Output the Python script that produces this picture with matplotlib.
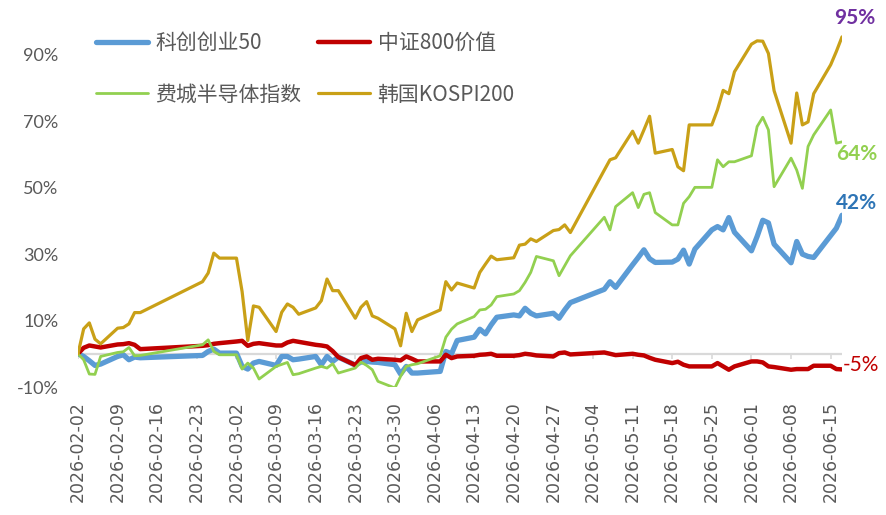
import matplotlib
matplotlib.use('Agg')
import matplotlib.pyplot as plt
import pandas as pd

plt.rcParams['font.family'] = ['Noto Sans CJK SC', 'DejaVu Sans']

# ---------------- data ----------------
start_date = '2026-02-02'
end_date = '2026-06-17'
holidays = ['2026-02-16', '2026-02-17', '2026-02-18', '2026-02-19', '2026-02-20',
            '2026-02-23', '2026-04-06', '2026-05-01', '2026-05-04', '2026-05-05']

series_names = ['科创创业50', '中证800价值', '费城半导体指数', '韩国KOSPI200']

kc50 = [
    0, -0.8, -2.1, -3.5, -3.1, -0.8, -0.3, -1.8, -1.0, -1.2, -0.5, 0.7, 1.4, 0.2,
    0.2, -3.8, -4.6, -2.8, -2.3, -3.5, -0.8, -0.8, -1.8, -1.6, -0.8, -3.3, -0.8, -2.3, -1.0,
    -3.4, -2.5, -2.3, -2.5, -2.6, -3.3, -6.1,
    -3.8, -5.8, -5.8, -5.3, 0.7, 0.0, 4.0, 5.0, 7.4, 6.0, 8.7, 11.0, 11.7, 11.4, 13.7, 12.2,
    11.4, 12.2, 10.7, 13.2, 15.4,
    19.4, 21.7, 20.0, 26.8, 29.0, 31.3, 28.6, 27.5, 27.6, 28.5, 31.2, 27.0, 31.5, 37.3, 38.3,
    37.3, 41.0, 36.6,
    31.0, 35.3, 40.2, 39.4, 33.0, 27.4, 33.8, 30.0, 29.3, 29.0, 35.6, 37.8, 41.7]

csi800v = [
    0, 1.8, 2.5, 2.2, 1.9, 2.8, 2.9, 3.2, 2.7, 1.4, 2.4, 2.6, 3.0, 3.2,
    3.7, 3.9, 2.4, 3.0, 3.2, 2.5, 2.5, 3.4, 3.9, 3.6, 2.7, 2.5, 2.2, 0.8, -1.0, -3.4, -1.3,
    -0.8, -1.8, -1.5, -1.8, -2.0,
    -0.8, -1.5, -2.3, -2.3, -0.3, -1.3, -0.8, -0.6, -0.3, -0.2, 0.0, -0.6, -0.6, -0.4, 0.0,
    -0.2, -0.5, -0.8, 0.2, 0.4, -0.2,
    0.4, 0.0, -0.4, 0.0, -0.3, -0.5, -1.2, -1.8, -2.8, -2.4, -3.3, -3.8, -3.8, -3.8, -2.8,
    -3.8, -4.8, -3.8,
    -2.3, -2.3, -2.6, -3.8, -4.0, -4.8, -4.6, -4.6, -4.6, -3.6, -3.6, -4.6, -4.7]

sox = [
    0, -1.8, -6.1, -6.2, -0.8, 0.4, 0.6, 1.9, -0.6, -0.5, 2.7, 4.2, 0.7, -0.3,
    -0.3, -4.6, -2.8, -4.3, -7.6, -3.8, -3.2, -2.6, -6.3, -6.0, -4.3, -3.8, -4.3, -3.0, -5.8,
    -4.3, -2.5, -3.5, -4.8, -8.3, -10.3, -6.8,
    -3.8, -3.3, -3.0, -0.6, 5.0, 7.4, 9.0, 11.2, 13.2, 13.4, 14.7, 17.2, 18.0, 19.0, 21.5,
    24.5, 29.3, 28.0, 23.5, 26.5, 29.5,
    41.1, 37.3, 44.3, 48.5, 44.0, 48.0, 48.5, 42.5, 38.8, 38.8, 45.3, 47.3, 50.1, 50.1, 58.4,
    56.3, 57.8, 57.8,
    59.6, 68.4, 71.2, 67.4, 50.3, 58.9, 55.3, 49.8, 62.4, 65.9, 73.4, 63.4, 63.8]

kospi200 = [
    0, 7.5, 9.3, 4.4, 3.0, 7.7, 7.9, 9.0, 12.4, 12.4, 21.7, 24.3, 30.3, 28.8,
    28.8, 18.7, 4.0, 14.4, 14.0, 6.7, 12.5, 15.0, 14.0, 11.9, 13.8, 16.0, 22.5, 19.0, 19.0,
    10.7, 14.0, 15.7, 11.4, 10.7, 7.5, 2.4,
    12.2, 6.7, 10.2, 13.2, 21.7, 19.2, 21.3, 19.8, 24.5, 27.0, 29.4, 28.3, 28.9, 32.7, 33.0,
    34.6, 33.8, 37.1, 37.4, 38.8, 36.5,
    55.3, 58.4, 59.0, 67.0, 63.4, 67.4, 71.5, 60.4, 61.5, 56.3, 55.1, 68.9, 68.9, 68.9, 73.5,
    79.3, 78.3, 84.9,
    93.2, 94.2, 94.1, 90.4, 79.2, 63.4, 78.5, 68.9, 69.8, 78.3, 87.0, 91.0, 95.4]

y_ticks = [-10, 10, 30, 50, 70, 90]

# ---------------- styles ----------------
colors = ['#5B9BD5', '#C00000', '#92D050', '#C9A017']
widths = [3.8, 3.2, 2.0, 2.3]
label_colors = ['#2E75B6', '#C00000', '#92D050', '#7030A0']
label_offsets = [(15, 12), (19, 4), (15, -12), (13, 19)]
label_weights = ['bold', 'normal', 'bold', 'bold']
gray = '#595959'

dates = pd.bdate_range(start_date, end_date)
dates = dates[~dates.isin(pd.to_datetime(holidays))]
week_ticks = pd.date_range(start_date, end_date, freq='7D')

W, H = 887, 515
fig = plt.figure(figsize=(W / 100, H / 100), dpi=100)
ax = fig.add_axes([78 / W, 1 - 387 / H, 764 / W, (387 - 21.6) / H])

ax.axhline(0, color='#D9D9D9', lw=1.6, zorder=1)
ax.vlines(week_ticks, -1.6, 0, color='#D9D9D9', lw=1.2, zorder=1)

all_series = [kc50, csi800v, sox, kospi200]
lines = []
for name, vals, c, lw in zip(series_names, all_series, colors, widths):
    ln, = ax.plot(dates, vals, color=c, lw=lw, label=name, solid_joinstyle='round',
                  solid_capstyle='round', zorder=3)
    lines.append(ln)

for vals, c, off, wt in zip(all_series, label_colors, label_offsets, label_weights):
    v = vals[-1]
    ax.annotate(f'{v:.0f}%', xy=(dates[-1], v), xytext=off, textcoords='offset pixels',
                ha='center', va='center', color=c, fontsize=15, fontweight=wt,
                family='Lato', annotation_clip=False)

ax.set_xlim(dates[0], dates[-1])
ax.set_ylim(-10, 100)
ax.set_yticks(y_ticks)
ax.set_yticklabels([f'{t}%' for t in y_ticks], family='Lato', fontsize=13, color=gray)
ax.set_xticks(week_ticks)
ax.set_xticklabels([d.strftime('%Y-%m-%d') for d in week_ticks], rotation=90,
                   family='DejaVu Sans', fontsize=12.5, color=gray)
ax.tick_params(axis='both', length=0)
ax.tick_params(axis='x', pad=10)
ax.tick_params(axis='y', pad=14)
for s in ax.spines.values():
    s.set_visible(False)

order = [0, 2, 1, 3]
leg = fig.legend([lines[i] for i in order], [series_names[i] for i in order],
                 loc='upper left', bbox_to_anchor=(96 / W, 1 - 32 / H), ncol=2,
                 frameon=False, fontsize=15, handlelength=2.5, handletextpad=0.35,
                 columnspacing=0.8, labelspacing=1.42, borderpad=0, borderaxespad=0)
for t in leg.get_texts():
    t.set_color(gray)

fig.savefig('out.png', dpi=100)
